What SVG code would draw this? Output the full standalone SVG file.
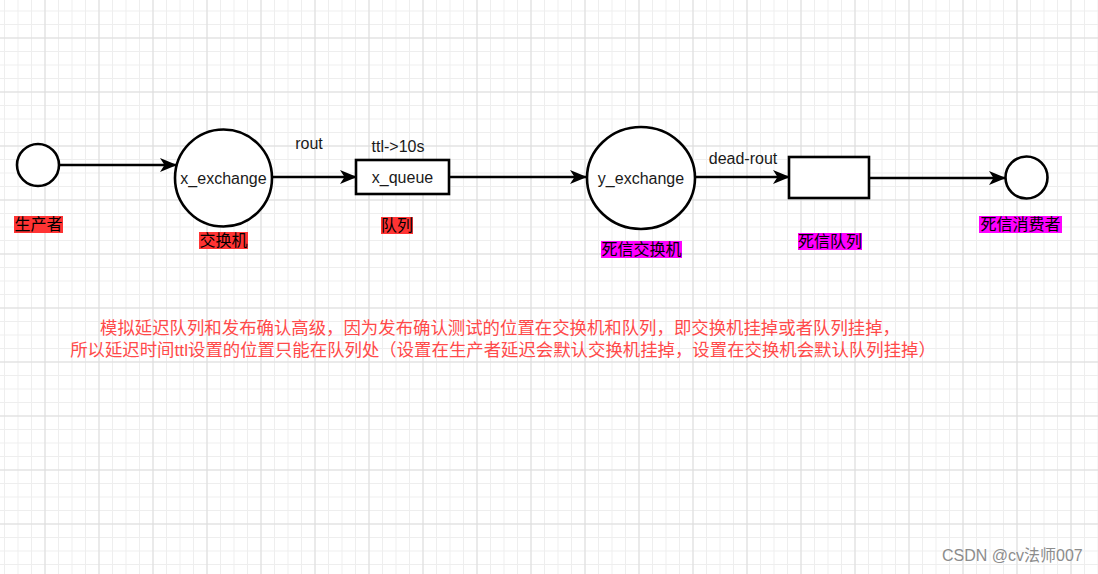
<svg xmlns="http://www.w3.org/2000/svg" width="1098" height="574" viewBox="0 0 1098 574">
  <defs>
    <pattern id="minor" x="-9.5" y="-16.5" width="13.5" height="13.5" patternUnits="userSpaceOnUse">
      <path d="M0,0.5 H13.5 M0.5,0 V13.5" fill="none" stroke="#eeeeee" stroke-width="1"/>
    </pattern>
    <pattern id="major" x="-9.5" y="-16.5" width="54" height="54" patternUnits="userSpaceOnUse">
      <path d="M0,0.5 H54 M0.5,0 V54" fill="none" stroke="#dcdcdc" stroke-width="1"/>
    </pattern>
    <marker id="arr" markerUnits="userSpaceOnUse" markerWidth="17" markerHeight="14" viewBox="0 0 17 14" refX="16" refY="7" orient="auto">
      <path d="M0,0 L17,7 L0,14 L4.5,7 Z" fill="#000"/>
    </marker>
    <style>
      .shape { fill: #fff; stroke: #000; stroke-width: 2.6; }
      .edge { fill: none; stroke: #000; stroke-width: 2.3; marker-end: url(#arr); }
      .lbl { font-family: "Liberation Sans", "Noto Sans CJK SC", sans-serif; font-size: 16px; fill: #1a1a1a; text-anchor: middle; }
      .cn { font-family: "Liberation Sans", "Noto Sans CJK SC", sans-serif; font-size: 16px; fill: #000; text-anchor: middle; }
      .red { fill: #ff3333; }
      .mag { fill: #ff00ff; }
      .note { font-family: "Liberation Sans", "Noto Sans CJK SC", sans-serif; font-size: 17.4px; fill: #ff4a4a; text-anchor: middle; }
      .wm { font-family: "Liberation Sans", "Noto Sans CJK SC", sans-serif; font-size: 16px; fill: #8c8c8c; }
    </style>
  </defs>
  <rect width="1098" height="574" fill="#fff"/>
  <rect width="1098" height="574" fill="url(#minor)"/>
  <rect width="1098" height="574" fill="url(#major)"/>

  <g id="connectors">
    <path class="edge" d="M59,165 L176,165"/>
    <path class="edge" d="M272,177 L356,177"/>
    <path class="edge" d="M449,177 L586,177"/>
    <path class="edge" d="M695,177 L789,177"/>
    <path class="edge" d="M869,178 L1005,178"/>
    <text class="lbl" x="309" y="149">rout</text>
    <text class="lbl" x="743" y="164">dead-rout</text>
  </g>

  <g id="producer">
    <circle class="shape" cx="38" cy="165" r="21"/>
    <rect class="red" x="14" y="216" width="49" height="17"/>
    <text class="cn" x="38.5" y="230">生产者</text>
  </g>

  <g id="x_exchange">
    <circle class="shape" cx="223.5" cy="178" r="48.5"/>
    <text class="lbl" x="223.5" y="184">x_exchange</text>
    <rect class="red" x="199" y="232" width="49" height="17"/>
    <text class="cn" x="223.5" y="246">交换机</text>
  </g>

  <g id="x_queue">
    <text class="lbl" x="398" y="152">ttl-&gt;10s</text>
    <rect class="shape" x="356" y="160" width="93" height="34"/>
    <text class="lbl" x="402.5" y="183">x_queue</text>
    <rect class="red" x="381" y="217" width="32" height="17"/>
    <text class="cn" x="397" y="231">队列</text>
  </g>

  <g id="y_exchange">
    <ellipse class="shape" cx="641" cy="178" rx="54" ry="51"/>
    <text class="lbl" x="641" y="184">y_exchange</text>
    <rect class="mag" x="601" y="241" width="81" height="17"/>
    <text class="cn" x="641.5" y="255">死信交换机</text>
  </g>

  <g id="dead_queue">
    <rect class="shape" x="789" y="157" width="80" height="41"/>
    <rect class="mag" x="798" y="233" width="64" height="17"/>
    <text class="cn" x="830" y="247">死信队列</text>
  </g>

  <g id="dead_consumer">
    <circle class="shape" cx="1026.5" cy="177.5" r="21"/>
    <rect class="mag" x="979" y="216" width="83" height="17"/>
    <text class="cn" x="1020.5" y="230">死信消费者</text>
  </g>

  <g id="note">
    <text class="note" x="500" y="334">模拟延迟队列和发布确认高级，因为发布确认测试的位置在交换机和队列，即交换机挂掉或者队列挂掉，</text>
    <text class="note" x="503" y="356">所以延迟时间ttl设置的位置只能在队列处（设置在生产者延迟会默认交换机挂掉，设置在交换机会默认队列挂掉）</text>
  </g>

  <text class="wm" x="942" y="561">CSDN @cv法师007</text>
</svg>
